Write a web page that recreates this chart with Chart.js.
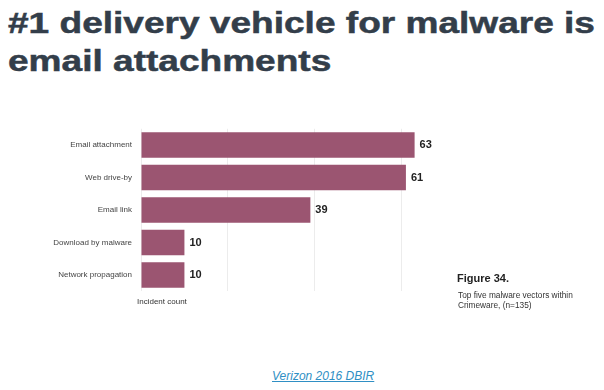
<!DOCTYPE html>
<html>
<head>
<meta charset="utf-8">
<script src="https://cdn.jsdelivr.net/npm/chart.js@4"></script>
<style>
    body { margin: 0; background: #fff; width: 604px; height: 390px; overflow: hidden; position: relative; font-family: "Liberation Sans", Arial, sans-serif; }
    h1 { position: absolute; left: 8px; top: 4px; margin: 0; font-size: 30px; line-height: 38px; font-weight: bold; color: #333e4a; white-space: nowrap; transform: scaleX(1.235); transform-origin: 0 0; -webkit-text-stroke: 0.5px #333e4a; }
    #wrap { position: absolute; left: 0; top: 115px; width: 604px; height: 190px; }
    .axis-title { position: absolute; left: 137px; top: 297px; font-size: 8px; color: #333; }
    .fig { position: absolute; left: 457px; top: 272px; font-size: 11px; font-weight: bold; color: #222; }
    .fig-sub { position: absolute; left: 458px; top: 290px; font-size: 8.3px; line-height: 10px; color: #333; }
    .source { position: absolute; left: 272px; top: 369px; font-size: 12px; font-style: italic; color: #2f8fc4; text-decoration: underline; }
</style>
</head>
<body>
<h1>#1 delivery vehicle for malware is<br>email attachments</h1>
<div id="wrap"><canvas id="vectorChart"></canvas></div>
<div class="axis-title">Incident count</div>
<div class="fig">Figure 34.</div>
<div class="fig-sub">Top five malware vectors within<br>Crimeware, (n=135)</div>
<div class="source">Verizon 2016 DBIR</div>

<script>
const categories = ["Email attachment", "Web drive-by", "Email link", "Download by malware", "Network propagation"];
const incidents = [63, 61, 39, 10, 10];
const gridTicks = [0, 20, 40, 60];

// draw the count next to each bar
const valueLabels = {
    id: "valueLabels",
    afterDatasetsDraw(chart) {
        const ctx = chart.ctx;
        const meta = chart.getDatasetMeta(0);
        ctx.save();
        ctx.font = "bold 11px 'Liberation Sans', Arial, sans-serif";
        ctx.fillStyle = "#222";
        ctx.textBaseline = "middle";
        meta.data.forEach((bar, i) => {
            ctx.fillText(incidents[i], bar.x + 5, bar.y);
        });
        ctx.restore();
    }
};

const ctx = document.getElementById("vectorChart").getContext("2d");
new Chart(ctx, {
    type: "bar",
    data: {
        labels: categories,
        datasets: [{
            label: "Incident count",
            data: incidents,
            backgroundColor: "#9b5571",
            borderWidth: 0,
            barPercentage: 0.79,
            categoryPercentage: 1
        }]
    },
    options: {
        indexAxis: "y",
        responsive: true,
        maintainAspectRatio: false,
        animation: false,
        layout: { padding: { top: 0, bottom: 0, left: 0, right: 159 } },
        plugins: {
            legend: { display: false },
            tooltip: { enabled: false }
        },
        scales: {
            x: {
                min: 0,
                max: 70,
                afterBuildTicks: scale => { scale.ticks = gridTicks.map(v => ({ value: v })); },
                ticks: { display: false },
                grid: { color: "#ececec", drawTicks: false, lineWidth: 1 },
                border: { display: false }
            },
            y: {
                afterFit: scale => { scale.width = 141; },
                ticks: {
                    color: "#444",
                    padding: 9,
                    font: { size: 8, family: "'Liberation Sans', Arial, sans-serif" }
                },
                grid: { display: false, drawTicks: false },
                border: { display: false }
            }
        }
    },
    plugins: [valueLabels]
});
</script>
</body>
</html>
